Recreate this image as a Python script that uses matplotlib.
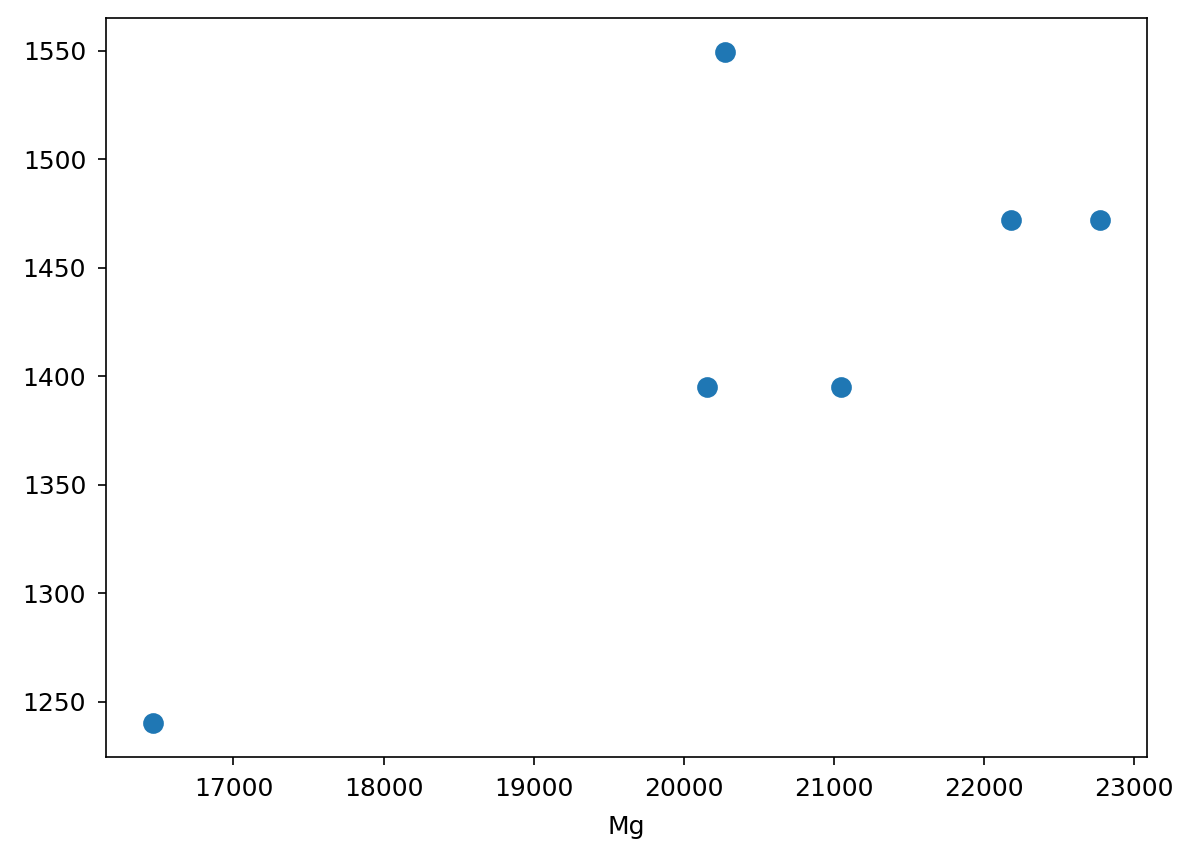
import matplotlib
matplotlib.use("Agg")
from matplotlib import pyplot as plt

# values
mg = [16466, 20155, 20275, 21047, 22180, 22772]
vals = [1240, 1395, 1549.5, 1395, 1472, 1472]

W, H, DPI = 1183, 858, 150
fig = plt.figure(figsize=(W / DPI, H / DPI), dpi=DPI)
# axes box in pixels: left 106, right 1147, top 18, bottom 757
ax = fig.add_axes([106 / W, 1 - 757 / H, (1147 - 106) / W, (757 - 18) / H])

ax.scatter(mg, vals, s=80, color="#1f77b4")
ax.set_xlabel("Mg", fontsize=12, labelpad=7)
ax.tick_params(labelsize=12, length=4, pad=5.5)

fig.savefig("out.png", dpi=DPI)
